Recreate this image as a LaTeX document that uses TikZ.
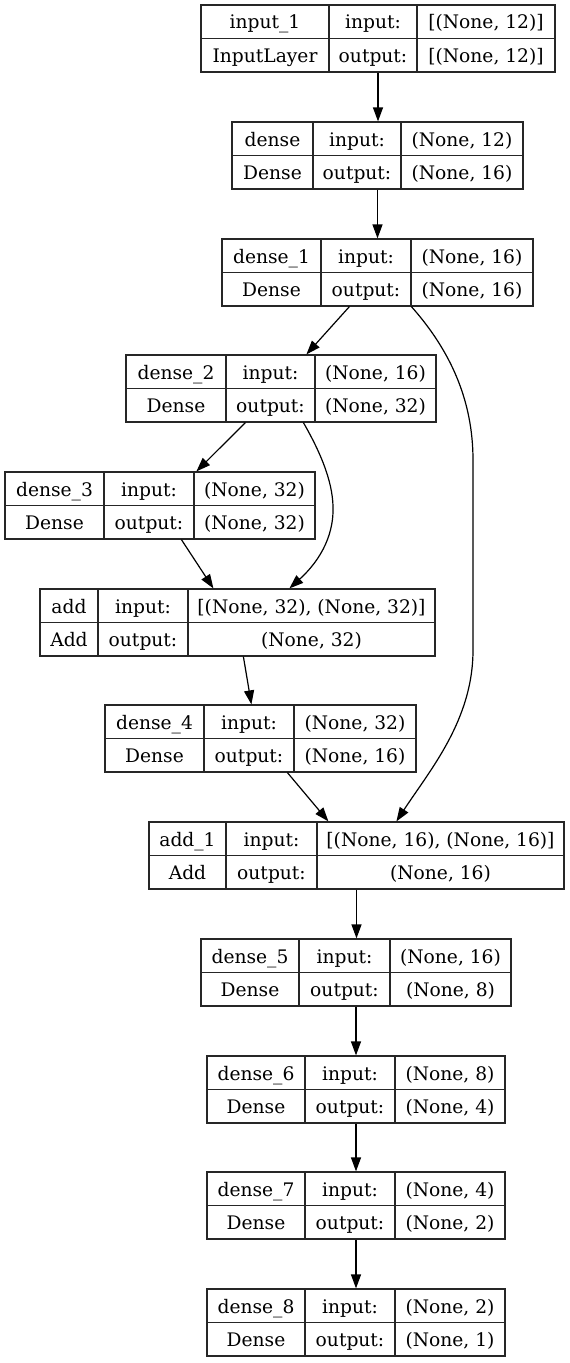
\documentclass[tikz,border=0pt]{standalone}
\usepackage{fontspec}
\setmainfont{DejaVu Serif}
\usetikzlibrary{arrows.meta,calc,fit}

% one unit = one pixel at 96 dpi, y grows downwards
\tikzset{
  boxframe/.style={draw=black!85, line width=0.9pt, inner sep=0pt},
  rule/.style={draw=black!85, line width=0.9pt},
  celltext/.style={font=\fontsize{14}{16}\selectfont, inner sep=0pt, anchor=base},
  link/.style={line width=0.9pt, -{Triangle[length=10.5pt,width=7.5pt]}},
}

% geometry: left / first divider / second divider / right / top
\def\setgeom#1/#2/#3/#4/#5\relax{\def\gxl{#1}\def\gxa{#2}\def\gxb{#3}\def\gxr{#4}\def\gyt{#5}}

% \layerbox{node}{geometry}{layer name}{layer type}{input shape}{output shape}
\newcommand\layerbox[6]{%
  \setgeom#2\relax
  \coordinate (#1-nw) at (\gxl,\gyt);
  \coordinate (#1-se) at (\gxr,\gyt+67);
  \node[boxframe, fit=(#1-nw)(#1-se)] (#1) {};
  \draw[rule] (\gxa,\gyt) -- (\gxa,\gyt+67);
  \draw[rule] (\gxb,\gyt) -- (\gxb,\gyt+67);
  \draw[rule] (\gxl,\gyt+33.5) -- (\gxr,\gyt+33.5);
  \node[celltext] (#1-name)   at ({(\gxl+\gxa)/2},\gyt+24)   {#3};
  \node[celltext] (#1-type)   at ({(\gxl+\gxa)/2},\gyt+57.5) {#4};
  \node[celltext] (#1-inlbl)  at ({(\gxa+\gxb)/2},\gyt+24)   {input:};
  \node[celltext] (#1-outlbl) at ({(\gxa+\gxb)/2},\gyt+57.5) {output:};
  \node[celltext] (#1-in)     at ({(\gxb+\gxr)/2},\gyt+24)   {#5};
  \node[celltext] (#1-out)    at ({(\gxb+\gxr)/2},\gyt+57.5) {#6};
}

\begin{document}
\begin{tikzpicture}[x=0.75pt,y=-0.75pt]
\fill[white] (0,0) rectangle (569,1363);
\useasboundingbox (0,0) rectangle (569,1363);

\layerbox{in1}{201/329/417/555/5}{input\_1}{InputLayer}{[(None, 12)]}{[(None, 12)]}
\layerbox{d0}{232/313/401/523/122}{dense}{Dense}{(None, 12)}{(None, 16)}
\layerbox{d1}{222/321/411/533/239}{dense\_1}{Dense}{(None, 16)}{(None, 16)}
\layerbox{d2}{126/226/315/436/355}{dense\_2}{Dense}{(None, 16)}{(None, 32)}
\layerbox{d3}{5/104/194/315/472}{dense\_3}{Dense}{(None, 32)}{(None, 32)}
\layerbox{add0}{40/98/188/435/589}{add}{Add}{[(None, 32), (None, 32)]}{(None, 32)}
\layerbox{d4}{105/204/294/416/705}{dense\_4}{Dense}{(None, 32)}{(None, 16)}
\layerbox{add1}{149/226/317/564/822}{add\_1}{Add}{[(None, 16), (None, 16)]}{(None, 16)}
\layerbox{d5}{201/299/390/511/939}{dense\_5}{Dense}{(None, 16)}{(None, 8)}
\layerbox{d6}{207/305/395/505/1056}{dense\_6}{Dense}{(None, 8)}{(None, 4)}
\layerbox{d7}{207/305/395/505/1172}{dense\_7}{Dense}{(None, 4)}{(None, 2)}
\layerbox{d8}{207/305/395/505/1289}{dense\_8}{Dense}{(None, 2)}{(None, 1)}

% straight chain
\draw[link] (in1.south) -- (in1.south |- d0.north);
\draw[link] (d0.south) -- (d0.south |- d1.north);
\draw[link] (add1.south) -- (add1.south |- d5.north);
\draw[link] (d5.south) -- (d5.south |- d6.north);
\draw[link] (d6.south) -- (d6.south |- d7.north);
\draw[link] (d7.south) -- (d7.south |- d8.north);

% branches
\draw[link] ($(d1.south west)+(128,0)$) -- ($(d2.north west)+(181,0)$);
\draw[link] ($(d2.south west)+(120,0)$) -- ($(d3.north west)+(192,0)$);
\draw[link] ($(d3.south west)+(177,0)$) -- ($(add0.north west)+(174,0)$);
\draw[link] ($(add0.south west)+(204,0)$) -- ($(d4.north west)+(147,0)$);
\draw[link] ($(d4.south west)+(183,0)$) -- ($(add1.north west)+(180,0)$);

% skip connections
\draw[link] ($(d2.south west)+(178,0)$)
  .. controls (322,455) and (334,485) .. (333,512)
  .. controls (332,545) and (312,568) .. ($(add0.north west)+(250,0)$);
\draw[link] ($(d1.south west)+(190,0)$)
  .. controls (450,350) and (473,400) .. (473,460)
  -- (473,650)
  .. controls (473,720) and (430,770) .. ($(add1.north west)+(248,0)$);
\end{tikzpicture}
\end{document}
